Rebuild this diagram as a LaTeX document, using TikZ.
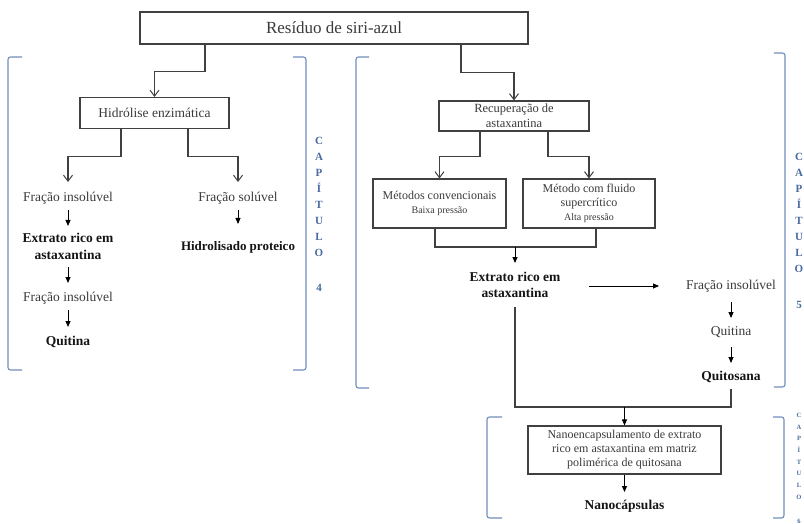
\documentclass[tikz,border=0pt]{standalone}
\usepackage{fontspec}
\setmainfont{Liberation Serif}
\usetikzlibrary{arrows.meta}
\definecolor{lnc}{HTML}{404040}
\definecolor{brc}{RGB}{112,142,188}
\definecolor{chc}{RGB}{72,106,160}
\definecolor{txc}{HTML}{3A3A3A}
\begin{document}
\begin{tikzpicture}[x=1pt,y=-1pt,
  box/.style={draw=lnc,line width=1.1pt,inner sep=0pt,align=center,text=txc},
  lbl/.style={inner sep=0pt,align=center,text=txc,font=\fontsize{13.5}{16.5}\selectfont},
  lbl1/.style={lbl,text height=9.5pt,text depth=2.5pt},
  blbl/.style={inner sep=0pt,align=center,text=black!92,font=\fontsize{13.5}{16.5}\selectfont\bfseries},
  blbl1/.style={blbl,text height=9.5pt,text depth=2.5pt},
  oarr/.style={draw=lnc,line width=1.1pt,-{Straight Barb[length=6pt,width=9pt,line width=1pt]}},
  farr/.style={draw=black,line width=0.9pt,-{Triangle[length=6pt,width=5pt]}},
  ln/.style={draw=lnc,line width=1.1pt},
  brk/.style={draw=brc,line width=1.1pt,rounded corners=2.5pt},
  chap/.style={inner sep=0pt,align=center,text=chc,font=\fontsize{11}{16}\selectfont\bfseries}]
\useasboundingbox (0,0) rectangle (804,524);

% boxes
\node[box,minimum width=388pt,minimum height=32pt,font=\fontsize{17}{20}\selectfont] (top) at (334,28) {Resíduo de siri-azul};
\node[box,minimum width=149pt,minimum height=31pt,font=\fontsize{13.5}{16}\selectfont] (hid) at (154.5,113) {Hidrólise enzimática};
\node[box,minimum width=150pt,minimum height=30pt,font=\fontsize{12.5}{15}\selectfont] (rec) at (514,116) {Recuperação de\\astaxantina};
\node[box,minimum width=133pt,minimum height=49pt,font=\fontsize{12}{14}\selectfont] (met1) at (439.5,203.5) {Métodos convencionais\\{\fontsize{10}{14}\selectfont Baixa pressão}};
\node[box,minimum width=132pt,minimum height=49pt,font=\fontsize{12}{14}\selectfont] (met2) at (589,203.5) {Método com fluido\\supercrítico\\{\fontsize{10}{14}\selectfont Alta pressão}};
\node[box,minimum width=193pt,minimum height=48pt,font=\fontsize{12}{14}\selectfont] (nano) at (624.5,450) {Nanoencapsulamento de extrato\\rico em astaxantina em matriz\\polimérica de quitosana};

% labels
\node[lbl1] (fi1) at (68,198) {Fração insolúvel};
\node[blbl] (ext1) at (68,246.5) {Extrato rico em\\astaxantina};
\node[lbl1] (fi2) at (68,298) {Fração insolúvel};
\node[blbl1] (qui1) at (68,342) {Quitina};
\node[lbl1] (fs) at (238,198) {Fração solúvel};
\node[blbl1,font=\fontsize{13}{16}\selectfont\bfseries] (hp) at (238,247) {Hidrolisado proteico};
\node[blbl] (ext2) at (515,285) {Extrato rico em\\astaxantina};
\node[lbl1] (fi3) at (731,286) {Fração insolúvel};
\node[lbl1] (qui2) at (731,332) {Quitina};
\node[blbl1] (qts) at (731,377) {Quitosana};
\node[blbl1] (nc) at (624.5,506) {Nanocápsulas};

% connectors
\draw[oarr] ([xshift=-129pt]top.south) -- ++(0,27) -| (hid.north);
\draw[oarr] ([xshift=127pt]top.south) -- ++(0,28) -| (rec.north);
\draw[oarr] ([xshift=-33.5pt]hid.south) -- ++(0,27.5) -| ([yshift=16pt]fi1.center);
\draw[oarr] ([xshift=33.5pt]hid.south) -- ++(0,27.5) -| ([yshift=16pt]fs.center);
\draw[oarr] ([xshift=-34pt]rec.south) -- ++(0,25) -| (met1.north);
\draw[oarr] ([xshift=34pt]rec.south) -- ++(0,25) -| (met2.north);

\draw[farr] ([yshift=-12pt]fi1.center) -- ([yshift=20.5pt]ext1.center);
\draw[farr] ([yshift=-20.5pt]ext1.center) -- ([yshift=15pt]fi2.center);
\draw[farr] ([yshift=-12pt]fi2.center) -- ([yshift=15pt]qui1.center);
\draw[farr] ([yshift=-12pt]fs.center) -- ([yshift=23pt]hp.center);

\coordinate (m1) at (515,247);
\draw[ln] ([xshift=-4.5pt]met1.south) |- (m1) -| ([xshift=7pt]met2.south);
\draw[farr] (m1) -- ([yshift=22pt]ext2.center);
\draw[farr] ([xshift=74pt,yshift=-1pt]ext2.center) -- ([xshift=-72pt]fi3.center);
\draw[farr] ([yshift=-16pt]fi3.center) -- ([yshift=14pt]qui2.center);
\draw[farr] ([yshift=-15pt]qui2.center) -- ([yshift=14pt]qts.center);
\coordinate (m2) at (624.5,407);
\draw[ln] ([yshift=-12pt]qts.center) |- (m2) -| ([yshift=-22pt]ext2.center);
\draw[farr] (m2) -- (nano.north);
\draw[farr] (nano.south) -- ([yshift=14pt]nc.center);

% brackets
\draw[brk] (22,57) -- (8,57) -- (8,370) -- (22,370);
\draw[brk] (293,57) -- (306,57) -- (306,370) -- (293,370);
\draw[brk] (369,57) -- (356,57) -- (356,388) -- (369,388);
\draw[brk] (774,53) -- (785,53) -- (785,387) -- (774,387);
\draw[brk] (502,417) -- (487,417) -- (487,518) -- (502,518);
\draw[brk] (773,417) -- (784,417) -- (784,518) -- (773,518);

% chapter labels
\node[chap] (c4) at (319,214.5) {C\\A\\P\\Í\\T\\U\\L\\O\\[19pt]4};
\node[chap] (c5) at (799,231) {C\\A\\P\\Í\\T\\U\\L\\O\\[20pt]5};
\node[chap,font=\fontsize{6.5}{11.7}\selectfont\bfseries] (c6) at (799,468.5) {C\\A\\P\\Í\\T\\U\\L\\O\\[13pt]6};
\end{tikzpicture}
\end{document}
